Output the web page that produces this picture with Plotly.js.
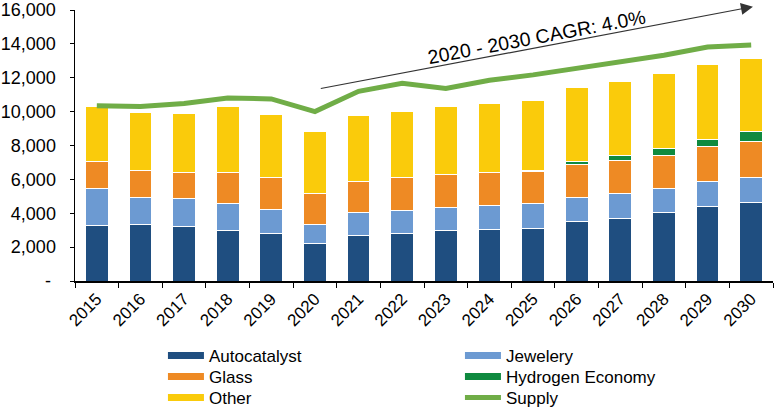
<!DOCTYPE html>
<html>
<head>
<meta charset="utf-8">
<script src="https://cdn.plot.ly/plotly-3.0.1.min.js"></script>
<style>html,body{margin:0;padding:0;background:#fff;}#chart{width:778px;height:410px;}</style>
</head>
<body>
<div id="chart"></div>
<script>
const years = ['2015','2016','2017','2018','2019','2020','2021','2022','2023','2024','2025','2026','2027','2028','2029','2030'];
const autocatalyst = [3280, 3330, 3220, 3000, 2800, 2190, 2700, 2800, 3000, 3060, 3120, 3530, 3690, 4040, 4370, 4650];
const jewelery     = [2170, 1620, 1650, 1590, 1430, 1140, 1340, 1370, 1350, 1410, 1450, 1390, 1470, 1410, 1510, 1470];
const glass        = [1620, 1570, 1530, 1820, 1880, 1820, 1840, 1940, 1940, 1920, 1900, 1940, 1960, 1960, 2040, 2100];
const hydrogen     = [0, 0, 0, 0, 0, 0, 0, 0, 0, 0, 60, 180, 290, 400, 440, 600];
const other        = [3220, 3410, 3470, 3880, 3750, 3700, 3880, 3920, 4040, 4090, 4150, 4410, 4380, 4430, 4410, 4330];
const supply       = [10350, 10300, 10480, 10800, 10750, 10000, 11200, 11680, 11370, 11850, 12170, 12560, 12920, 13330, 13820, 13930];
const yTickVals  = [0, 2000, 4000, 6000, 8000, 10000, 12000, 14000, 16000];
const yTickText  = ['-\u00a0', '2,000', '4,000', '6,000', '8,000', '10,000', '12,000', '14,000', '16,000'];
const cagrLabel = '2020 - 2030 CAGR: 4.0%';

const colors = {
  auto: '#1F4E80', jew: '#6C9AD2', glass: '#EE8A24', hyd: '#0F8A3F', other: '#FACB0B', supply: '#70AD47'
};
const FONT = 'Liberation Sans, Arial, sans-serif';

function barTrace(name, vals, color) {
  return {
    type: 'bar', name: name, x: years, y: vals, showlegend: false,
    marker: {color: color, line: {color: '#ffffff', width: 1}},
    hoverinfo: 'x+y+name'
  };
}
function legendTrace(name, color, w, legendId) {
  return {
    type: 'scatter', mode: 'lines', name: name, x: [null], y: [null],
    line: {color: color, width: w}, showlegend: true, hoverinfo: 'skip', legend: legendId
  };
}

const data = [
  barTrace('Autocatalyst', autocatalyst, colors.auto),
  barTrace('Jewelery', jewelery, colors.jew),
  barTrace('Glass', glass, colors.glass),
  barTrace('Hydrogen Economy', hydrogen, colors.hyd),
  barTrace('Other', other, colors.other),
  legendTrace('Autocatalyst', colors.auto, 7, 'legend'),
  legendTrace('Jewelery', colors.jew, 7, 'legend'),
  legendTrace('Glass', colors.glass, 7, 'legend2'),
  legendTrace('Hydrogen Economy', colors.hyd, 7, 'legend2'),
  legendTrace('Other', colors.other, 7, 'legend3'),
  {
    type: 'scatter', mode: 'lines', name: 'Supply', x: years, y: supply,
    line: {color: colors.supply, width: 5}, showlegend: true, legend: 'legend3'
  }
];

function legendRow(y) {
  return {
    orientation: 'h', x: 0.126, xanchor: 'left', y: y, yanchor: 'top',
    entrywidth: 246, entrywidthmode: 'pixels', itemwidth: 36,
    font: {family: FONT, size: 17, color: '#000000'},
    traceorder: 'normal', bgcolor: 'rgba(0,0,0,0)'
  };
}

const layout = {
  width: 778, height: 410,
  margin: {l: 75, r: 5, t: 10, b: 129, autoexpand: false},
  paper_bgcolor: '#ffffff', plot_bgcolor: '#ffffff',
  font: {family: FONT, size: 18, color: '#000000'},
  barmode: 'stack', bargap: 0.48,
  showlegend: true,
  legend: legendRow(-0.2103),
  legend2: legendRow(-0.2878),
  legend3: legendRow(-0.3653),
  xaxis: {
    type: 'category', range: [-0.5, 15.5], tickson: 'boundaries',
    ticks: 'outside', ticklen: 5, tickwidth: 1, tickcolor: '#000',
    showline: true, linecolor: '#000', linewidth: 1.5,
    showgrid: false, zeroline: false, tickangle: -45,
    tickfont: {family: FONT, size: 17, color: '#000'}, automargin: false
  },
  yaxis: {
    range: [0, 16000], tickvals: yTickVals, ticktext: yTickText,
    ticks: 'outside', ticklen: 4, tickwidth: 1, tickcolor: '#000',
    showline: true, linecolor: '#000', linewidth: 1.5,
    showgrid: false, zeroline: false, ticklabelstandoff: 10,
    tickfont: {family: FONT, size: 18, color: '#000'}, automargin: false
  },
  annotations: [
    {
      xref: 'x', yref: 'y', axref: 'x', ayref: 'y',
      x: 15.04, y: 16195, ax: 5.1, ay: 11350,
      showarrow: true, arrowhead: 2, arrowsize: 2, arrowwidth: 1.2, arrowcolor: '#333333',
      standoff: 0, startstandoff: 0, text: ''
    },
    {
      xref: 'x', yref: 'y', x: 10.07, y: 14420, showarrow: false,
      text: cagrLabel, textangle: -10.7,
      font: {family: FONT, size: 19.5, color: '#000'}
    }
  ]
};

Plotly.newPlot('chart', data, layout, {displayModeBar: false, staticPlot: true});
</script>
</body>
</html>
